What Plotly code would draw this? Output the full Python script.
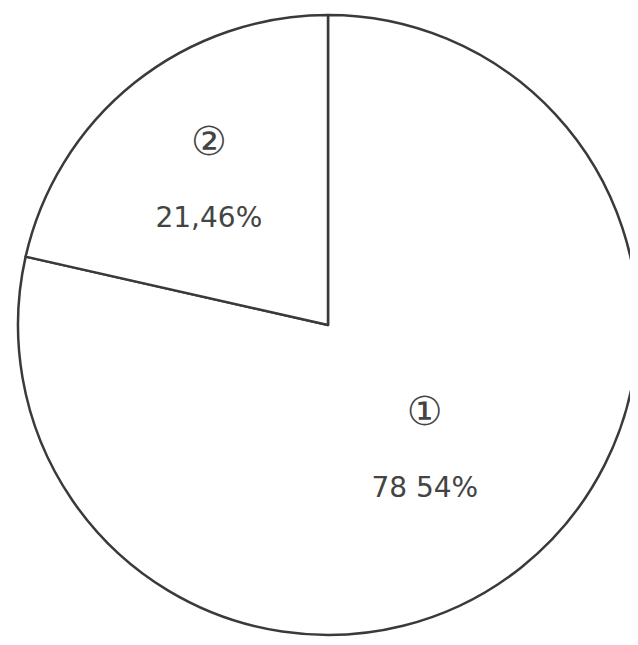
import plotly.graph_objects as go

labels = ["1", "2"]
values = [78.54, 21.46]
marks = ["①", "②"]
pct_text = ["78 54%", "21,46%"]

texts = [f'<span style="font-size:40px">{m}</span><br><br>{p}' for m, p in zip(marks, pct_text)]

fig = go.Figure(go.Pie(
    labels=labels,
    values=values,
    text=texts,
    textinfo="text",
    textposition="inside",
    insidetextorientation="horizontal",
    sort=False,
    direction="clockwise",
    rotation=0,
    marker=dict(colors=["white", "white"], line=dict(color="#3a3a3a", width=2.5)),
    textfont=dict(family="DejaVu Sans", size=28, color="#444444"),
    hoverinfo="label+percent",
    showlegend=False,
))
fig.update_layout(
    width=638, height=645,
    margin=dict(l=8, r=6, t=7, b=18),
    paper_bgcolor="white",
    plot_bgcolor="white",
    uniformtext=dict(minsize=20, mode="show"),
)
fig.write_html("out.html")
